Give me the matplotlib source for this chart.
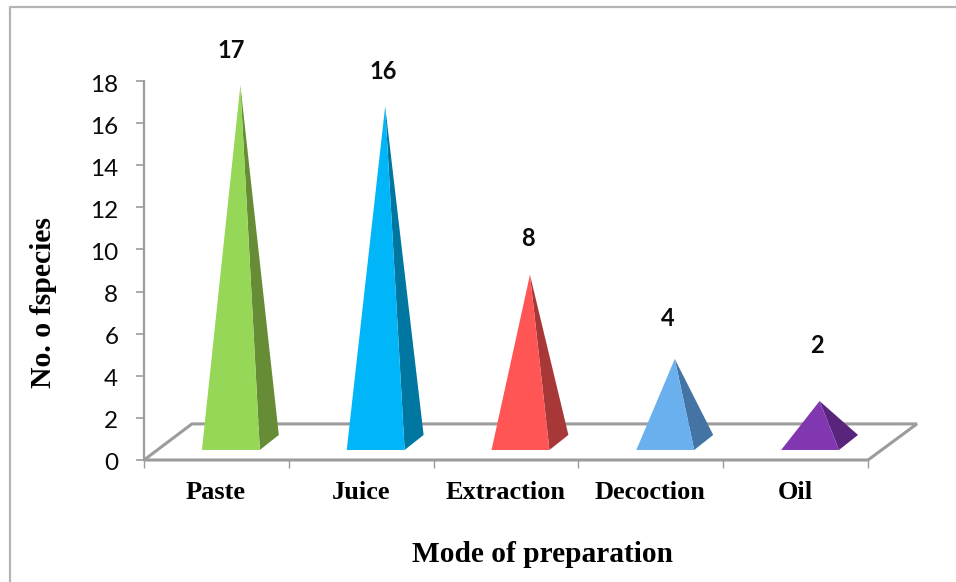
import matplotlib
matplotlib.use("Agg")
import matplotlib.pyplot as plt
from matplotlib.lines import Line2D
from matplotlib.patches import Polygon
from matplotlib.transforms import ScaledTranslation

categories = ["Paste", "Juice", "Extraction", "Decoction", "Oil"]
values = [17, 16, 8, 4, 2]
front_colors = ["#96D757", "#00B5F8", "#FF5555", "#6AB0EE", "#8037B0"]
side_colors = ["#668C35", "#0077A0", "#A83838", "#4474A4", "#59257C"]
y_ticks = list(range(0, 20, 2))

# label placement in pixels, relative to the category start and the value height
label_dx = [87, 95, 94, 89, 94]
label_dy = [52, 52, 54, 58, 73]

W, H = 956, 582
fig = plt.figure(figsize=(W / 100, H / 100), dpi=100, facecolor="white")
x0, x1, y0, y1 = 144, 868, 460, 81
ax = fig.add_axes([x0 / W, 1 - y0 / H, (x1 - x0) / W, (y0 - y1) / H])
ax.set_xlim(0, len(categories))
ax.set_ylim(0, 18)
ax.patch.set_alpha(0)

GRAY = "#9C9C9C"
for s in ("top", "right", "bottom"):
    ax.spines[s].set_visible(False)
ax.spines["left"].set_color(GRAY)
ax.spines["left"].set_linewidth(1.6)

ax.set_yticks(y_ticks)
ax.tick_params(axis="y", length=6, width=1.2, color=GRAY, pad=12.5, labelsize=17.5, labelcolor="#0A0A0A")
shift_down = ScaledTranslation(0, -2 / 100, fig.dpi_scale_trans)
for t in ax.get_yticklabels():
    t.set_fontfamily("Lato")
    t.set_transform(t.get_transform() + shift_down)
ax.set_xticks(range(len(categories) + 1))
ax.tick_params(axis="x", length=6, width=1.0, color=GRAY, labelbottom=False)

# perspective offsets in data units
ux = 1 / 145.0
uy = 1 / 21.0
dx_depth = 48 * ux
dy_depth = 36 * uy

floor = Polygon([(0, 0), (dx_depth, dy_depth), (5 + dx_depth + 1 * ux, dy_depth), (5, 0)],
                closed=True, fill=False, edgecolor=GRAY, linewidth=2.2, clip_on=False,
                joinstyle="miter", zorder=1)
ax.add_patch(floor)

base_y = 10 * uy
for i, (v, fc, sc) in enumerate(zip(values, front_colors, side_colors)):
    left = i + 58 * ux
    right = i + 116 * ux
    corner = (i + 135 * ux, 25 * uy)
    apex = (i + 96.5 * ux, v + 0.8)
    ax.add_patch(Polygon([(right, base_y), corner, apex], closed=True, facecolor=sc,
                         edgecolor="none", clip_on=False, zorder=3))
    ax.add_patch(Polygon([(left, base_y), (right, base_y), apex], closed=True, facecolor=fc,
                         edgecolor="none", clip_on=False, zorder=4))
    ax.text(i + label_dx[i] * ux, v + (label_dy[i] - 1) * uy, str(v), ha="center", va="center",
            fontsize=17, fontweight="bold", family="Lato", color="#0A0A0A", clip_on=False, zorder=5)
    ax.text(i + 72 * ux, -32 * uy, categories[i], ha="center", va="center", fontsize=19,
            fontweight="bold", family="Liberation Serif", color="black", clip_on=False)

fig.text(543 / W, 1 - 555 / H, "Mode of preparation", ha="center", va="center", fontsize=21.2,
         fontweight="bold", family="Liberation Serif", color="black")
fig.text(44 / W, 1 - 302 / H, "No. o fspecies", ha="center", va="center", rotation=90, fontsize=21.4,
         fontweight="bold", family="Liberation Serif", color="black")

# outer chart frame, cut by the image edge
fig.add_artist(Line2D([10 / W, 10 / W, 1], [0, 1 - 7 / H, 1 - 7 / H],
                      color="#B4B4B4", linewidth=1.6, transform=fig.transFigure))

fig.savefig("out.png", dpi=100, facecolor="white")
